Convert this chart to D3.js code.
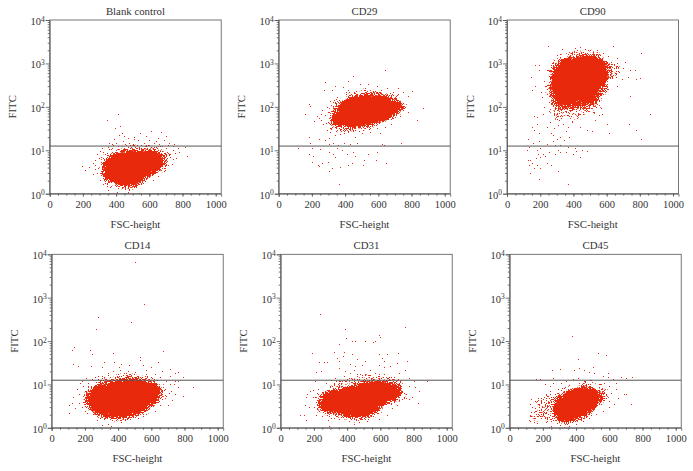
<!DOCTYPE html>
<html><head><meta charset="utf-8">
<script src="https://cdn.jsdelivr.net/npm/d3@7"></script>
<style>html,body{margin:0;background:#fff}svg{display:block}text{font-family:"Liberation Serif",serif;fill:#333}</style>
</head><body><svg id="c" width="693" height="471"></svg>
<script>
// Every pair is [FSC-height, FITC].
// *Core = outline of the solid part of a cloud, *Halo = its dense speckled part, *Fringe = its sparse outer part, *Dots = single events.
const panelTitles = ["Blank control","CD29","CD90","CD14","CD31","CD45"];
const xTickLabels = [0,200,400,600,800,1000];
const yTickLabels = [1,10,100,1000,10000];
const gateFITC = 12.5;

const blankCore = [[360,3.5],[390,6],[480,8.3],[600,9.3],[660,7.1],[660,5],[580,3.2],[520,2.2],[460,1.9],[390,2.4]];
const blankHalo = [[310,4.2],[340,7.1],[430,10],[560,11],[660,9.8],[706,6.6],[690,3.8],[610,2.5],[540,1.6],[470,1.26],[390,1.6],[320,2.2]];
const blankFringe = [[280,4],[320,9],[420,15],[560,16],[680,13],[750,8],[730,4],[640,2.2],[540,1.3],[440,1.05],[350,1.3],[290,2.2]];
const blankDots = [[346,49],[410,68],[394,32],[424,36],[420,22],[670,27],[700,21],[610,28],[544,25],[470,19],[505,18],[530,17],[600,17],[640,16],[690,17],[720,15],[750,14],[815,12],[825,7.5],[780,9],[755,8.5],[740,10],[725,8],[760,6.5],[770,11],[710,13],[660,14],[570,15],[480,15],[440,16],[400,15],[355,15],[350,12],[315,11],[300,9.5],[285,8],[270,6],[258,5],[235,4.2],[195,4.3],[215,3.5],[270,3.8],[262,2.8],[282,3],[290,4],[275,4.5],[295,6.5],[310,7],[320,9],[328,1],[350,1.2],[360,1.05],[405,1.1],[470,1.1],[540,1.05],[345,1.5],[320,1.7],[300,2.1],[620,2.1],[650,2.5],[690,3.4],[715,4.5],[735,4.8],[705,5.6],[745,6.2],[725,7],[380,13],[460,13.5],[500,14],[550,13.5],[590,13.2],[630,14.5],[675,12.8],[360,10.5],[700,11.5],[745,12.5],[510,20],[450,21],[580,21],[655,19],[385,18],[435,25],[375,14]];

const cd29Core = [[344,50],[374,85],[444,132],[544,158],[644,120],[664,71],[584,50],[484,36],[394,38]];
const cd29Halo = [[304,50],[334,93],[394,158],[504,208],[624,208],[724,145],[784,112],[704,60],[624,42],[504,32],[384,32],[314,36]];
const cd29Fringe = [[260,55],[300,130],[380,230],[510,290],[640,260],[760,190],[800,120],[720,60],[620,34],[500,25],[370,22],[280,30]];
const cd29Dots = [[640,720],[450,510],[415,390],[490,340],[540,330],[280,380],[340,300],[320,250],[270,250],[385,280],[420,240],[590,300],[650,270],[720,270],[750,225],[800,230],[710,190],[780,180],[870,95],[835,50],[780,75],[730,60],[690,55],[640,35],[590,32],[735,15],[610,25],[185,115],[190,105],[160,70],[240,55],[255,70],[265,40],[290,30],[310,26],[340,22],[370,24],[420,27],[460,20],[500,25],[550,26],[300,19],[280,17],[240,18],[185,20],[190,15],[300,14],[330,15],[355,13],[395,15],[430,14],[470,15],[620,14],[115,11],[200,11],[250,10.5],[350,11],[380,10],[445,9],[590,9],[635,13],[180,8],[205,7.5],[300,9],[325,8],[340,7],[410,8],[460,7.5],[540,8],[515,6],[200,5.5],[235,4.5],[260,5],[295,5.5],[320,4],[370,4.2],[420,4.6],[440,5],[505,4.5],[585,6],[645,5.2],[305,3.4],[365,1.7],[240,4.4],[285,42],[315,33],[350,30],[395,25],[450,30],[510,29],[560,36],[675,40],[700,75],[665,62],[260,85],[230,62],[210,48],[255,50],[280,65],[290,100],[310,135],[350,170]];

const cd90Core = [[268,295],[292,710],[362,1120],[502,1450],[582,850],[572,355],[502,174],[382,174],[292,190]];
const cd90Halo = [[240,246],[260,660],[310,1320],[442,1740],[562,1640],[632,1000],[640,550],[592,246],[552,110],[442,85],[312,80],[268,120]];
const cd90Fringe = [[215,200],[235,800],[300,1800],[440,2300],[580,2000],[680,1100],[710,700],[640,300],[600,110],[480,50],[300,40],[245,90]];
const cd90Dots = [[245,2500],[330,2100],[440,2400],[640,2550],[490,2000],[580,1700],[610,1500],[660,1300],[710,1100],[700,800],[740,700],[770,710],[780,430],[800,450],[730,480],[690,430],[665,300],[740,180],[805,1700],[170,920],[190,900],[195,700],[145,480],[150,240],[170,300],[205,220],[220,400],[230,300],[210,170],[220,100],[240,200],[250,130],[260,90],[160,60],[180,58],[215,70],[255,80],[285,65],[300,72],[330,60],[350,80],[375,62],[420,60],[460,70],[520,75],[555,65],[570,70],[530,50],[600,40],[615,25],[735,40],[780,30],[860,68],[805,18],[150,35],[165,30],[180,40],[195,25],[240,35],[260,45],[285,32],[310,38],[340,40],[365,35],[390,45],[440,35],[480,30],[510,28],[265,25],[280,22],[300,18],[320,20],[345,17],[355,28],[375,20],[125,18],[130,12],[155,15],[195,16],[240,14],[275,16],[290,13],[320,13],[370,12],[410,11],[450,10],[480,9.5],[120,10],[180,10],[200,11],[215,8],[185,8],[175,6.5],[200,7],[230,7.5],[250,9],[290,8],[305,10],[320,9],[125,6],[140,6],[130,4.5],[150,5],[160,4],[180,4.5],[200,4],[140,3],[240,5],[265,4.6],[305,3.3],[195,2.2],[365,1.7],[395,8],[355,9],[415,9.5],[440,7]];

const cd14Core = [[238,4.5],[268,7],[368,10],[528,12],[618,9],[628,5.4],[548,3.2],[448,2.2],[348,2.1],[268,2.9]];
const cd14Halo = [[192,4.5],[228,8.4],[328,12],[488,15.5],[588,13],[668,8.4],[658,4.5],[588,2.6],[488,1.7],[368,1.5],[268,2],[212,2.9]];
const cd14Fringe = [[170,4],[205,10],[310,16],[480,22],[610,17],[700,10],[690,4.5],[610,2.3],[490,1.4],[360,1.25],[250,1.7],[185,2.8]];
const cd14Dots = [[500,6500],[555,720],[280,350],[480,280],[265,185],[135,72],[125,62],[230,62],[240,50],[370,52],[670,58],[530,42],[315,33],[130,30],[160,27],[235,27],[300,25],[375,33],[420,30],[465,28],[530,36],[550,28],[640,33],[600,25],[710,23],[740,18],[760,19],[790,15],[715,16],[745,12],[760,12],[850,8.5],[790,5.5],[760,8.5],[745,6],[720,7],[710,10],[690,12],[665,20],[620,17],[575,16],[500,19],[460,20],[410,22],[370,20],[340,18],[300,16],[260,15],[205,14],[170,11],[220,11],[190,9],[200,7],[150,8],[165,6],[130,5],[120,3.8],[105,3.3],[105,2.2],[140,2.8],[165,3.8],[185,3],[200,2.5],[215,2.2],[250,2.1],[275,1.5],[290,1.7],[340,1.25],[355,1.1],[300,1.15],[420,1.35],[470,1.6],[520,1.7],[570,2.1],[620,2.5],[650,3.3],[700,3.4],[725,4.4],[690,5.5],[705,6.2],[735,10],[650,15],[560,13.5],[450,15],[380,14],[320,13.5],[280,13],[240,13],[180,12],[570,21],[405,25],[280,16]];

const cd31Core = [[264,3.5],[314,5.4],[414,6.4],[534,10],[654,10],[684,6.4],[594,3.5],[514,2],[434,2.2],[314,2.4]];
const cd31Halo = [[218,3.5],[254,7],[354,8.4],[494,12],[634,13],[744,8.4],[734,5.4],[634,3.2],[534,1.7],[434,1.55],[334,2],[244,2.2]];
const cd31Fringe = [[190,3.5],[230,8],[340,13],[490,19],[650,18],[770,11],[780,5],[660,2.6],[530,1.35],[420,1.25],[310,1.55],[215,2]];
const cd31Dots = [[235,420],[390,190],[395,120],[750,210],[590,135],[600,125],[430,100],[445,100],[510,98],[555,95],[570,100],[350,85],[190,52],[320,55],[380,55],[430,50],[590,50],[640,50],[705,52],[340,40],[230,33],[260,33],[280,33],[350,35],[375,45],[420,30],[460,38],[510,35],[610,40],[620,35],[700,32],[760,35],[240,20],[210,19],[350,24],[390,20],[450,27],[490,28],[540,22],[590,28],[620,25],[660,26],[710,18],[750,22],[770,14],[800,12],[880,12],[835,7],[810,8.5],[790,5],[830,3.7],[770,4.5],[745,6.2],[770,9],[720,12],[680,15],[625,17],[565,18],[510,17],[460,17],[420,18],[380,16],[330,14],[300,12.5],[270,11],[205,12],[225,8],[195,7.5],[175,7],[160,6],[220,6.5],[150,5],[195,5],[230,4],[145,3.3],[170,3],[200,3],[115,2],[140,2],[155,1.5],[215,2],[250,1.9],[290,1.1],[285,1.5],[350,1.6],[410,1.4],[440,1.25],[470,1.35],[520,1.4],[590,1.6],[640,2],[670,2.8],[700,3.3],[740,4.8],[755,4.9],[400,13],[500,13.5],[590,13.2],[650,13],[360,12],[440,22]];

const cd45Core = [[300,2.2],[320,3.8],[380,5.9],[460,7],[510,4.5],[490,2.9],[420,1.9],[360,1.55]];
const cd45Halo = [[245,2.6],[275,4.5],[330,7],[460,10],[540,7.6],[580,5.9],[530,2.9],[450,1.7],[350,1.2],[280,1.4]];
const cd45Fringe = [[105,1.6],[130,4.5],[220,6.5],[320,10],[450,14],[560,12],[610,6.5],[560,2.6],[450,1.4],[340,1.05],[250,1.1],[140,1.25]];
const cd45Dots = [[375,130],[530,53],[580,48],[410,38],[255,21],[300,23],[420,24],[500,25],[385,22],[450,21],[480,19],[510,18],[560,16],[590,18],[595,15],[670,15],[700,14],[735,15],[640,11],[620,13],[640,8],[690,6],[700,6],[730,3.6],[650,4.8],[610,6.5],[600,9],[570,11],[550,10.5],[555,8],[535,10],[160,13],[180,13],[260,14],[210,10],[240,9],[260,11],[290,8],[310,11],[340,12],[380,13],[410,14],[450,12],[490,12.5],[245,7],[220,6],[205,5],[130,4.5],[150,4.2],[170,4.8],[190,4],[120,3.5],[135,3],[150,2.8],[170,3.6],[195,3],[215,3.2],[230,4],[250,3.5],[270,4.5],[280,3],[240,2.5],[215,2.2],[180,2.3],[160,2.5],[125,2],[145,1.9],[115,1.5],[125,1.45],[145,1.35],[165,1.3],[195,1.85],[225,1.8],[250,1.6],[265,2],[285,1.3],[300,1.15],[325,1.05],[355,1.1],[400,1.2],[440,1.4],[480,1.7],[520,2.1],[560,2.4],[600,3],[630,3.5],[600,4.2],[530,6],[560,5.5],[250,1.1],[235,1.05],[290,2.1]];

const coreSets = [blankCore,cd29Core,cd90Core,cd14Core,cd31Core,cd45Core];
const haloSets = [blankHalo,cd29Halo,cd90Halo,cd14Halo,cd31Halo,cd45Halo];
const fringeSets = [blankFringe,cd29Fringe,cd90Fringe,cd14Fringe,cd31Fringe,cd45Fringe];
const dotSets  = [blankDots,cd29Dots,cd90Dots,cd14Dots,cd31Dots,cd45Dots];

const frames = [[49.7,20,171.5,173.7],[278.7,20,171.5,173.7],[507,20,171.5,173.7],
                [51.7,254.3,171.5,173.5],[280.7,254.3,171.5,173.5],[509.7,254.3,171.5,173.5]];
const red="#e8290b", dark="#555";
const svg=d3.select("#c");
const defs=svg.append("defs");

// Speckled rendering of an outline: it fades out through a grain, so its edge reads as stippling.
function stipple(id,seed,blur,k2){
  const f=defs.append("filter").attr("id",id).attr("x","-30%").attr("y","-30%").attr("width","160%").attr("height","160%")
    .attr("color-interpolation-filters","sRGB");
  f.append("feGaussianBlur").attr("in","SourceAlpha").attr("stdDeviation",blur).attr("result","soft");
  f.append("feTurbulence").attr("type","fractalNoise").attr("baseFrequency",.95).attr("numOctaves",1).attr("seed",seed).attr("result","n");
  f.append("feColorMatrix").attr("in","n").attr("type","matrix").attr("values","0 0 0 0 0 0 0 0 0 0 0 0 0 0 0 1 0 0 0 0").attr("result","grain");
  f.append("feComposite").attr("in","soft").attr("in2","grain").attr("operator","arithmetic")
    .attr("k1",0).attr("k2",k2).attr("k3",1).attr("k4",-1).attr("result","mix");
  const t=f.append("feComponentTransfer").attr("in","mix").attr("result","mask");
  t.append("feFuncA").attr("type","linear").attr("slope",40).attr("intercept",0);
  f.append("feFlood").attr("flood-color",red).attr("result","col");
  f.append("feComposite").attr("in","col").attr("in2","mask").attr("operator","in");
}

panelTitles.forEach((title,i)=>{
  const [L,T,W,H]=frames[i];
  const x=d3.scaleLinear().domain([0,1033]).range([0,W]);
  const y=d3.scaleLog().domain([1,10000]).range([H,0]);
  stipple("ha"+i,i+3,i==2?5:4,i==2?.72:.85);
  stipple("fr"+i,i+13,3,.42);
  defs.append("clipPath").attr("id","cp"+i).append("rect").attr("width",W).attr("height",H);
  const g=svg.append("g").attr("transform",`translate(${L},${T})`);
  const line=d3.line().x(d=>x(d[0])).y(d=>y(d[1])).curve(d3.curveCatmullRomClosed);
  const plot=g.append("g").attr("clip-path",`url(#cp${i})`);
  plot.append("path").attr("d",line(fringeSets[i])).attr("fill","#000").attr("filter",`url(#fr${i})`);
  plot.append("path").attr("d",line(haloSets[i])).attr("fill","#000").attr("filter",`url(#ha${i})`);
  plot.append("path").attr("d",line(coreSets[i])).attr("fill",red);
  plot.selectAll("rect.d").data(dotSets[i]).join("rect").attr("class","d")
    .attr("x",d=>Math.round(L+x(d[0]))-L).attr("y",d=>Math.round(T+y(d[1]))-T)
    .attr("width",1).attr("height",1).attr("fill",red);
  g.append("rect").attr("width",W).attr("height",H).attr("fill","none").attr("stroke",dark).attr("stroke-width",.8);
  g.append("line").attr("x1",0).attr("x2",W).attr("y1",y(gateFITC)).attr("y2",y(gateFITC)).attr("stroke",dark).attr("stroke-width",1);
  const xg=g.append("g").attr("transform",`translate(0,${H})`).call(d3.axisBottom(x).tickValues(xTickLabels).tickSize(3).tickPadding(4).tickFormat(d3.format("d")));
  g.append("g").attr("transform",`translate(0,${H})`).call(d3.axisBottom(x).tickValues(d3.range(0,1001,50)).tickSize(2).tickFormat("")).select(".domain").remove();
  const yg=g.append("g").call(d3.axisLeft(y).tickValues(yTickLabels).tickSize(4).tickPadding(6).tickFormat(""));
  const minors=yTickLabels.slice(0,-1).flatMap(d=>d3.range(2,10).map(k=>k*d));
  g.append("g").call(d3.axisLeft(y).tickValues(minors).tickSize(2).tickFormat("")).select(".domain").remove();
  g.selectAll(".domain,.tick line").attr("stroke",dark).attr("stroke-width",.8);
  xg.selectAll("text").attr("font-size",10.5).attr("fill","#333").style("font-family",'"Liberation Serif",serif');
  yg.selectAll(".tick").each(function(d){
    const t=d3.select(this).append("text").attr("x",-5).attr("dy","0.42em").attr("text-anchor","end").attr("font-size",10.5).attr("fill","#333")
      .style("font-family",'"Liberation Serif",serif');
    t.append("tspan").text("10");
    t.append("tspan").attr("dy","-0.45em").attr("font-size",7.5).text(Math.round(Math.log10(d)));
  });
  g.append("text").attr("x",W/2).attr("y",-5).attr("text-anchor","middle").attr("font-size",10.8).text(title);
  g.append("text").attr("x",W/2).attr("y",H+34).attr("text-anchor","middle").attr("font-size",10.8).text("FSC-height");
  g.append("text").attr("transform",`translate(-33.5,${H/2}) rotate(-90)`).attr("text-anchor","middle").attr("font-size",10.8).text("FITC");
});
</script></body></html>
